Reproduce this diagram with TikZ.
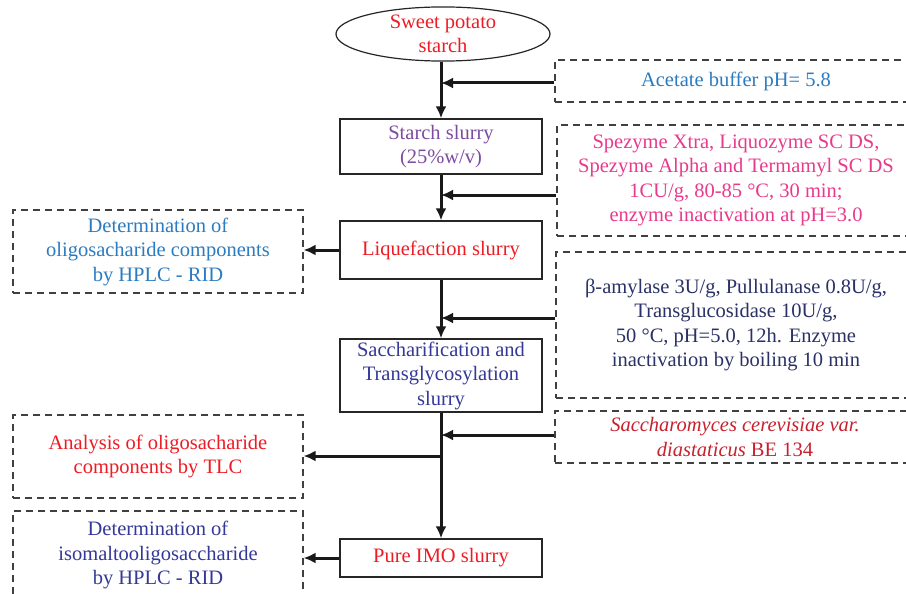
\documentclass[tikz,border=0pt]{standalone}
\usepackage{fontspec}
\setmainfont{Liberation Serif}
\usepackage{tikz}
\usetikzlibrary{positioning, shapes, arrows.meta}

\definecolor{potred}{RGB}{237,28,36}
\definecolor{yeastred}{RGB}{200,32,45}
\definecolor{slurrypurple}{RGB}{125,76,160}
\definecolor{enzpink}{RGB}{232,58,140}
\definecolor{hplcblue}{RGB}{43,123,192}
\definecolor{darknavy}{RGB}{42,49,102}
\definecolor{sacnavy}{RGB}{52,56,150}

\tikzset{
  stage/.style={draw=black!85, line width=1.4pt, rectangle, align=center,
    minimum width=202, inner sep=0pt},
  extra/.style={draw=black!75, line width=1.2pt, dash pattern=on 7pt off 5pt,
    rectangle, align=center, inner sep=0pt},
  flow/.style={line width=3pt, black!90, -{Latex[length=12pt,width=11pt]}},
  trunk/.style={line width=3pt, black!90}
}

\begin{document}
\begin{tikzpicture}[x=1pt, y=-1pt,
  every node/.style={font=\fontsize{20.5}{24.5}\selectfont}]
\useasboundingbox (0,0) rectangle (906,594);
\clip (0,0) rectangle (906,594);

% main column
\node (potato) at (443,34) [ellipse, draw=black!85, line width=1.2pt,
  minimum width=214, minimum height=53, inner sep=0pt, align=center,
  text=potred] {Sweet potato\\starch};
\node (slurry) at (441,146.5) [stage, minimum height=55, text=slurrypurple]
  {Starch slurry\\(25\%w/v)};
\node (liq) at (441,250) [stage, minimum height=58, text=potred]
  {Liquefaction slurry};
\node (sacch) at (441,375.5) [stage, minimum height=73, text=sacnavy]
  {Saccharification and\\Transglycosylation\\slurry};
\node (imo) at (441,558) [stage, minimum height=38, text=potred]
  {Pure IMO slurry};

% inputs on the right
\node (acetate) at (736,81) [extra, minimum width=362, minimum height=42,
  text=hplcblue] {Acetate buffer pH= 5.8};
\node (spezyme) at (736,180.5) [extra, minimum width=358, minimum height=111,
  text=enzpink] {Spezyme Xtra, Liquozyme SC DS,\\Spezyme Alpha and Termamyl SC DS\\1CU/g, 80-85 °C, 30 min;\\enzyme inactivation at pH=3.0};
\node (beta) at (736,325) [extra, minimum width=360, minimum height=146,
  text=darknavy] {β-amylase 3U/g, Pullulanase 0.8U/g,\\Transglucosidase 10U/g,\\50 °C, pH=5.0, 12h. Enzyme\\inactivation by boiling 10 min};
\node (yeast) at (735,437) [extra, minimum width=360, minimum height=52,
  text=yeastred] {\textit{Saccharomyces cerevisiae var.}\\\textit{diastaticus} BE 134};

% analyses on the left
\node (hplc1) at (158,251.5) [extra, minimum width=290, minimum height=83,
  text=hplcblue] {Determination of\\oligosacharide components\\by HPLC - RID};
\node (tlc) at (158,456.5) [extra, minimum width=290, minimum height=83,
  text=potred] {Analysis of oligosacharide\\components by TLC};
\node (hplc2) at (158,555) [extra, minimum width=290, minimum height=88,
  text=sacnavy] {Determination of\\isomaltooligosaccharide\\by HPLC - RID};

% junctions on the trunk
\coordinate (j1) at (441,83);
\coordinate (j2) at (441,195);
\coordinate (j3) at (441,318);
\coordinate (j4) at (441,435);
\coordinate (j5) at (441,456);

\draw[flow] (potato.south -| j1) -- (slurry.north);
\draw[flow] (slurry.south) -- (liq.north);
\draw[flow] (liq.south) -- (sacch.north);
\draw[flow] (sacch.south) -- (imo.north);

\draw[flow] (acetate.west |- j1) -- (j1);
\draw[flow] (spezyme.west |- j2) -- (j2);
\draw[flow] (beta.west |- j3) -- (j3);
\draw[flow] (yeast.west |- j4) -- (j4);

\draw[flow] (liq.west) -- (hplc1.east |- liq.west);
\draw[flow] (j5) -- (tlc.east |- j5);
\draw[flow] (imo.west) -- (hplc2.east |- imo.west);
\end{tikzpicture}
\end{document}
